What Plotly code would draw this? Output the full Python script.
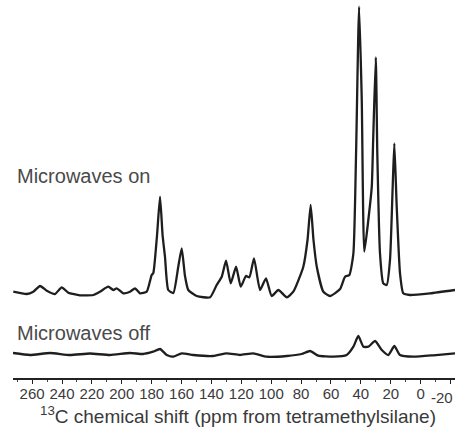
import plotly.graph_objects as go

# 13C NMR spectrum, "Microwaves on" (intensity above its own baseline, arb. units)
ppm_on = [272.6, 263.6, 259.2, 254.7, 250.2, 244.7, 240.2, 235.8, 228.0, 219.1,
          214.6, 209.0, 205.7, 203.4, 199.0, 194.5, 191.1, 187.8, 183.3, 180.0,
          178.9, 176.4, 174.4, 172.7, 171.1, 168.9, 165.5, 162.2, 159.9, 157.7,
          155.5, 149.9, 140.9, 136.5, 133.1, 130.2, 127.1, 123.5, 120.4, 116.9,
          114.6, 111.5, 107.5, 103.5, 99.7, 95.2, 89.6, 85.2, 78.5, 75.7,
          73.6, 71.7, 69.5, 65.1, 60.6, 53.9, 50.6, 47.7, 45.0, 43.2,
          41.2, 39.4, 37.7, 35.0, 32.7, 31.7, 30.0, 29.0, 27.2, 25.0,
          22.7, 20.5, 18.7, 17.6, 16.0, 13.8, 11.6, 7.1, -6.3, -23.0]
int_on = [3.3, 1.0, 3.3, 9.0, 4.3, 1.0, 7.7, 2.3, -0.3, 0.0,
          3.3, 8.3, 5.0, 6.7, 1.7, 3.3, 6.7, 1.7, 3.3, 20.0,
          22.0, 60.0, 98.3, 60.0, 38.3, 5.0, 2.0, 28.3, 46.7, 19.0,
          5.0, -1.0, -2.3, 10.0, 18.3, 34.3, 11.7, 28.3, 8.3, 19.0,
          17.7, 36.7, 5.0, 16.7, -1.0, 5.0, -2.3, 3.3, 28.3, 55.0,
          90.0, 55.0, 28.3, 3.3, -1.0, 6.0, 18.3, 20.0, 41.7, 142.0,
          288.3, 195.0, 43.3, 75.0, 108.3, 158.3, 237.7, 142.0, 41.7, 11.7,
          10.0, 35.0, 108.3, 151.7, 88.3, 21.7, 1.7, 0.0, 1.7, 5.0]

# "Microwaves off"
ppm_off = [272.8, 261.4, 248.0, 234.7, 221.3, 207.9, 194.5, 185.8, 179.1, 174.4,
           169.9, 165.5, 159.9, 152.1, 138.9, 129.8, 120.9, 112.0, 103.0, 89.6,
           79.6, 74.0, 68.5, 58.4, 49.5, 45.0, 41.7, 38.3, 35.0, 30.5,
           26.0, 21.6, 17.6, 13.8, 4.9, -8.5, -23.0]
int_off = [1.0, -1.0, 1.0, -1.0, 0.5, -1.0, 1.0, 0.0, 2.3, 5.0,
           -1.0, -2.7, 0.7, -1.0, -2.0, 0.7, -1.0, 0.7, -2.7, -2.0,
           0.0, 3.0, -1.7, -2.7, -1.0, 7.3, 18.0, 7.3, 7.3, 13.0,
           4.0, -1.0, 8.0, -1.0, -2.7, -1.3, 0.7]

labels = ["Microwaves on", "Microwaves off"]
offsets = [83, 24]
tick_vals = list(range(260, -21, -20))
tick_text = [str(v) for v in tick_vals]
x_title = "<sup>13</sup>C chemical shift (ppm from tetramethylsilane)"

line_col = "#1e1e1e"
text_col = "#4a4a4a"
tick_col = "#3a3a3a"
font_family = "Liberation Sans, Arial, sans-serif"

fig = go.Figure()
for xs, ys, off in [(ppm_on, int_on, offsets[0]), (ppm_off, int_off, offsets[1])]:
    fig.add_trace(go.Scatter(
        x=xs, y=[v + off for v in ys], mode="lines",
        line=dict(color=line_col, width=2.3, shape="spline", smoothing=0.5),
        showlegend=False, hoverinfo="skip"))

fig.add_annotation(text=labels[0], xref="paper", yref="y", x=0.004, y=offsets[0] + 119,
                   xanchor="left", yanchor="middle", showarrow=False,
                   font=dict(size=20, color=text_col, family=font_family))
fig.add_annotation(text=labels[1], xref="paper", yref="y", x=0.004, y=offsets[1] + 21,
                   xanchor="left", yanchor="middle", showarrow=False,
                   font=dict(size=20, color=text_col, family=font_family))
fig.add_annotation(text=x_title, xref="paper", yref="paper", x=0.508, y=-0.098,
                   xanchor="center", yanchor="middle", showarrow=False,
                   font=dict(size=19, color="#3a3a3a", family=font_family))
# last tick label sits flush with the right edge (as in the original figure)
fig.add_annotation(text=tick_text[-1], xref="paper", yref="paper", x=1.0, y=-0.052,
                   xanchor="right", yanchor="middle", showarrow=False,
                   font=dict(size=15, color=tick_col, family=font_family))
axis_text = tick_text[:-1] + [""]

fig.update_layout(
    width=457, height=428,
    margin=dict(l=13, r=2, t=0, b=50, autoexpand=False),
    paper_bgcolor="white", plot_bgcolor="white",
    font=dict(family=font_family, color="#3a3a3a"),
    xaxis=dict(range=[272.8, -23.0], showgrid=False, zeroline=False,
               showline=True, linecolor="#222", linewidth=1.6,
               tickmode="array", tickvals=tick_vals, ticktext=axis_text,
               ticks="outside", ticklen=4, tickwidth=1.3, tickcolor="#222",
               tickfont=dict(size=15, color=tick_col),
               ticklabelstandoff=-3, automargin=False,
               minor=dict(dtick=10, tick0=0, ticks="outside", ticklen=2,
                          tickwidth=1, tickcolor="#444"),
               fixedrange=True),
    yaxis=dict(range=[0, 378], visible=False, fixedrange=True),
)

fig.write_html("out.html", config={"displayModeBar": False},
               post_script="document.body.style.margin='0';document.body.style.padding='0';")
